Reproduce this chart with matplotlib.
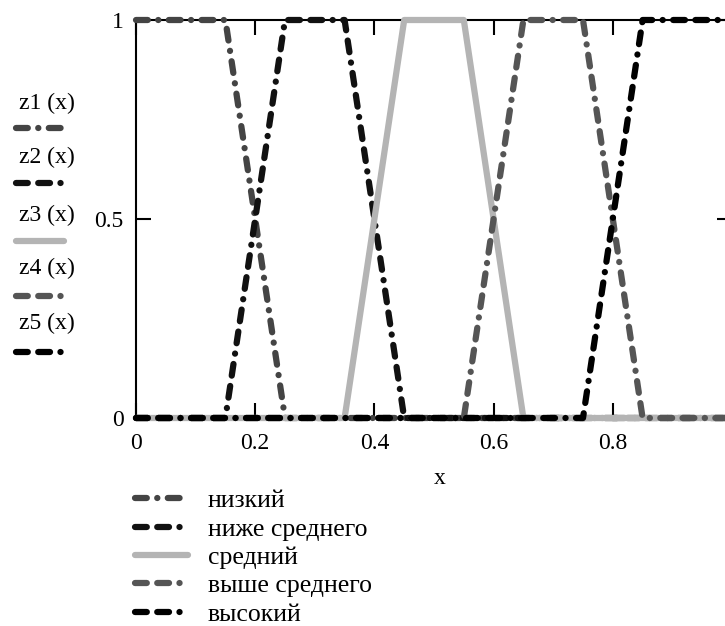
import matplotlib
matplotlib.use("Agg")
import matplotlib.pyplot as plt
from matplotlib.lines import Line2D

plt.rcParams['font.family'] = ['Liberation Serif', 'DejaVu Serif']
plt.rcParams['lines.scale_dashes'] = False

# точки излома функций принадлежности
x_pts = [0, 0.15, 0.25, 0.35, 0.45, 0.55, 0.65, 0.75, 0.85, 1.0]
z1 = [1, 1, 0, 0, 0, 0, 0, 0, 0, 0]
z2 = [0, 0, 1, 1, 0, 0, 0, 0, 0, 0]
z3 = [0, 0, 0, 0, 1, 1, 0, 0, 0, 0]
z4 = [0, 0, 0, 0, 0, 0, 1, 1, 0, 0]
z5 = [0, 0, 0, 0, 0, 0, 0, 0, 1, 1]
names = ["z1 (x)", "z2 (x)", "z3 (x)", "z4 (x)", "z5 (x)"]
labels = ["низкий", "ниже среднего", "средний", "выше среднего", "высокий"]
x_ticks = [0, 0.2, 0.4, 0.6, 0.8]
x_ticklabels = ["0", "0.2", "0.4", "0.6", "0.8"]
y_ticks = [0, 0.5, 1]
y_ticklabels = ["0", "0.5", "1"]

W, H = 725, 626
fig = plt.figure(figsize=(W / 100, H / 100), dpi=100)

# оси выходят за правый край картинки, как в исходнике
ax = fig.add_axes([136 / W, 1 - 418 / H, (732 - 136) / W, (418 - 20) / H])

dd = (0, (8.5, 7.5, 8.5, 7.5, 0.1, 7.5))
styles = [
    dict(color="#444444", lw=4.5, ls=(0, (8.5, 7.5, 0.1, 7.5))),
    dict(color="#111111", lw=4.5, ls=dd),
    dict(color="#b4b4b4", lw=4.5, ls="-"),
    dict(color="#555555", lw=4.5, ls=dd),
    dict(color="#000000", lw=4.5, ls=dd),
]
series = [z1, z2, z3, z4, z5]

for ys, st in zip(series, styles):
    ax.plot(x_pts, ys, color=st["color"], lw=st["lw"], ls=st["ls"],
            dash_capstyle="round", solid_capstyle="butt", clip_on=False, zorder=3)

ax.set_xlim(0, 1)
ax.set_ylim(0, 1)
ax.set_xticks(x_ticks)
ax.set_xticklabels(x_ticklabels)
ax.set_yticks(y_ticks)
ax.set_yticklabels(y_ticklabels)
ax.tick_params(direction="in", length=11, width=1.5, top=True, right=True,
               labelsize=17, colors="black")
ax.tick_params(axis="x", pad=11)
ax.tick_params(axis="y", pad=9)
for sp in ax.spines.values():
    sp.set_linewidth(1.5)
    sp.set_color("black")


def fx(px):
    return px / W


def fy(py):
    return 1 - py / H


fig.text(fx(440), fy(478), "x", fontsize=17, ha="center", va="center")

# левая легенда (z1(x) ... z5(x))
left_rows = [(103, 128), (157, 183), (215, 241), (268, 296), (323, 352)]
for name, st, (ty, ly) in zip(names, styles, left_rows):
    fig.text(fx(47), fy(ty), name, fontsize=17, ha="center", va="center")
    fig.add_artist(Line2D([fx(16), fx(64)], [fy(ly), fy(ly)], color=st["color"],
                          lw=st["lw"], ls=st["ls"], dash_capstyle="round",
                          solid_capstyle="round"))

# нижняя легенда
bottom_rows = [498, 527, 555, 583, 612]
for lab, st, ly in zip(labels, styles, bottom_rows):
    fig.add_artist(Line2D([fx(135), fx(188)], [fy(ly), fy(ly)], color=st["color"],
                          lw=st["lw"], ls=st["ls"], dash_capstyle="round",
                          solid_capstyle="round"))
    fig.text(fx(208), fy(ly + 3), lab, fontsize=18.5, ha="left", va="center")

fig.savefig("out.png", dpi=100)
